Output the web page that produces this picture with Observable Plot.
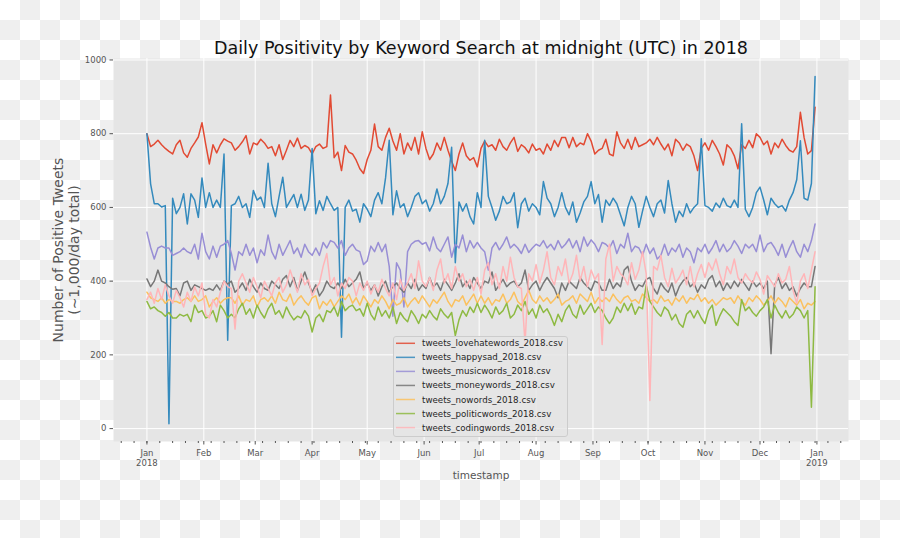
<!DOCTYPE html>
<html><head><meta charset="utf-8">
<script src="https://cdn.jsdelivr.net/npm/d3@7"></script>
<script src="https://cdn.jsdelivr.net/npm/@observablehq/plot@0.6"></script>
<style>
html,body{margin:0;padding:0;}
body{width:900px;height:538px;overflow:hidden;background:repeating-conic-gradient(#efefef 0 25%, #ffffff 0 50%) 0 0/40px 40px;font-family:"DejaVu Sans",sans-serif;}
#wrap{position:relative;width:900px;height:538px;}
#wrap > svg{position:absolute;left:0;top:0;}
#legend{position:absolute;left:393px;top:336px;width:175px;height:101px;}
#legend svg{display:block;}
</style></head>
<body><div id="wrap"><div id="legend"></div></div>
<script>
const titleText = "Daily Positivity by Keyword Search at midnight (UTC) in 2018";
const xLabel = "timestamp";
const yLabel = "Number of Positive Tweets\n(\u223C1,000/day total)";
const seriesNames = ["tweets_lovehatewords_2018.csv","tweets_happysad_2018.csv","tweets_musicwords_2018.csv","tweets_moneywords_2018.csv","tweets_nowords_2018.csv","tweets_politicwords_2018.csv","tweets_codingwords_2018.csv"];
const seriesColors = ["#E24A33","#348ABD","#988ED5","#777777","#FBC15E","#8EBA42","#FFB5B8"];
const startDate = "2018-01-01";
const stepDays = 2;
const yTicks = [0,200,400,600,800,1000];
const monthLabels = ["Jan\n2018","Feb","Mar","Apr","May","Jun","Jul","Aug","Sep","Oct","Nov","Dec","Jan\n2019"];

const lovehate = [800,765,772,782,770,760,752,745,770,782,748,736,760,775,791,830,772,718,770,748,770,786,780,
775,755,765,778,795,745,775,770,785,775,760,765,740,770,730,755,782,765,788,760,768,762,745,765,772,760,765,905,735,750,700,768,750,745,
728,705,692,730,755,826,765,755,790,815,780,755,800,745,775,755,790,745,805,760,730,745,775,755,790,755,725,700,745,775,740,728,735,710,
760,780,765,770,755,785,765,755,775,790,752,770,762,748,772,755,760,745,772,755,782,765,790,790,762,790,765,775,770,800,780,745,755,760,
785,745,740,805,775,760,785,758,790,765,770,775,785,770,790,772,756,772,740,785,775,755,772,765,740,700,760,775,755,782,765,745,715,770,
760,740,705,770,760,782,762,800,790,770,780,745,775,762,785,768,755,750,765,858,790,745,754,872];
const happysad = [800,664,610,610,601,605,13,625,583,600,637,555,637,620,573,680,600,640,600,620,600,745,240,
605,610,630,600,610,573,646,620,628,600,720,610,575,630,682,600,618,635,600,636,592,620,760,583,618,592,630,610,592,600,248,600,620,590,
595,560,610,595,575,620,640,610,680,782,580,645,600,610,575,600,630,640,610,620,590,610,650,610,630,665,763,450,615,590,610,575,555,640,
600,782,630,600,565,590,630,610,615,640,545,610,625,590,610,600,580,670,625,610,575,600,640,600,580,615,560,585,615,630,670,610,635,560,
620,605,625,610,580,550,600,630,610,546,590,630,600,575,610,620,585,673,610,560,590,575,610,585,600,610,786,605,600,590,612,600,625,605,
600,620,600,827,595,575,600,640,655,620,580,625,610,600,605,590,620,640,675,781,625,620,665,955];
const musicwords = [533,492,460,490,495,490,490,470,475,480,490,480,475,500,460,530,480,460,495,465,495,500,510,
475,430,480,470,500,470,490,450,485,470,525,480,460,500,470,490,510,475,490,465,500,480,470,490,470,505,490,510,505,490,510,470,490,500,
485,480,445,455,495,480,505,480,500,440,305,450,430,330,480,500,508,510,500,505,482,520,490,480,500,520,465,500,490,525,480,510,490,505,
490,480,430,490,505,485,500,520,490,500,490,475,500,478,490,500,495,510,490,500,485,510,490,500,515,490,510,480,520,495,512,500,480,505,
500,490,510,475,500,490,530,480,495,490,470,500,475,490,460,470,500,470,490,480,500,465,490,480,450,490,480,500,475,490,510,480,500,480,
490,510,495,475,500,490,500,480,525,480,500,505,490,470,500,465,490,510,480,465,500,480,510,555];
const moneywords = [406,385,400,430,400,395,385,378,380,360,395,400,375,390,385,380,375,380,375,390,375,400,392,
400,370,380,395,375,405,385,370,395,380,375,400,390,380,405,415,385,410,375,400,425,395,370,390,360,375,400,385,380,395,380,405,385,395,
405,425,380,395,375,390,360,385,400,370,385,395,380,370,395,380,405,375,390,380,410,385,395,375,405,390,375,395,420,385,400,380,410,395,
380,400,395,425,375,390,405,385,395,400,385,395,430,375,390,400,375,395,410,395,380,355,395,375,400,390,380,410,395,385,375,400,395,375,
375,405,380,395,385,430,440,400,375,390,385,405,410,380,365,395,380,370,395,360,385,400,410,385,395,370,390,380,405,415,385,400,375,395,
380,400,385,405,390,375,400,385,395,380,400,203,390,410,380,395,375,385,360,380,395,385,385,440];
const nowords = [370,355,350,345,355,340,350,345,345,340,350,355,345,360,345,350,360,330,345,355,340,350,355,
355,340,360,335,350,345,360,330,350,355,345,360,340,370,350,345,365,335,350,360,345,335,355,360,325,345,335,350,330,345,360,350,365,340,
355,335,360,345,330,350,340,360,345,325,350,335,340,355,330,345,355,340,360,345,330,350,340,355,370,345,330,350,345,360,335,350,365,340,
360,340,355,335,350,345,365,340,350,370,345,335,355,375,350,340,360,345,355,340,350,365,335,345,350,360,340,365,355,345,370,340,355,345,
355,345,365,350,340,355,360,345,350,340,365,355,345,350,340,360,345,350,335,355,345,360,340,355,350,365,345,355,340,350,335,345,355,350,
355,340,360,345,335,355,345,360,350,335,345,360,340,355,345,330,355,345,335,350,325,340,335,345];
const politicwords = [345,325,330,320,315,305,315,300,300,310,305,310,290,335,315,320,300,305,320,290,335,320,300,
310,300,325,340,310,325,300,335,315,300,325,340,310,320,300,330,310,295,305,300,320,305,262,300,310,290,320,315,330,305,345,320,330,335,
320,325,305,340,310,295,330,305,320,300,330,285,315,300,290,320,305,285,310,300,320,305,295,325,310,300,315,252,295,320,305,330,315,340,
315,335,320,300,330,310,320,340,300,310,335,320,345,310,325,300,335,315,325,305,280,310,290,320,335,310,300,335,310,325,340,315,330,320,
300,285,300,330,315,340,320,340,310,330,325,390,345,330,315,305,330,320,295,310,285,275,310,320,300,320,300,285,320,335,280,305,325,315,
305,290,280,350,320,330,315,305,320,330,350,300,335,315,300,320,300,310,330,320,300,320,58,385];
const codingwords = [350,370,340,380,350,390,360,340,375,355,330,370,345,385,360,395,310,300,350,330,370,400,385,
380,270,400,420,395,370,410,385,355,400,380,360,395,410,370,390,430,400,370,420,390,405,360,380,395,440,475,390,410,360,395,380,410,400,
360,395,375,400,365,390,370,405,380,360,395,350,405,375,395,420,380,455,400,385,410,375,430,460,395,420,380,440,400,420,385,405,375,410,
365,430,450,390,420,380,440,400,465,410,385,380,232,420,400,445,395,430,480,410,390,440,415,460,395,420,470,400,440,385,430,405,420,228,
460,500,400,440,420,410,390,450,405,430,480,420,76,440,430,470,410,385,435,395,410,430,390,440,385,420,445,410,450,430,460,420,390,440,
420,460,410,395,420,405,395,425,405,365,415,400,385,420,395,405,440,375,340,400,420,380,430,480];

const seriesValues = [lovehate, happysad, musicwords, moneywords, nowords, politicwords, codingwords];
const start = new Date(startDate + "T00:00:00Z");
const rows = seriesNames.flatMap((name, k) =>
  seriesValues[k].map((v, i) => ({name, date: d3.utcDay.offset(start, i * stepDays), value: v})));

const monthTicks = d3.utcMonth.range(new Date(Date.UTC(2018,0,1)), new Date(Date.UTC(2019,0,2)));
const labelMap = new Map(monthTicks.map((d, i) => [+d, monthLabels[i]]));
const weekTicks = d3.utcMonday.range(new Date(Date.UTC(2017,11,14)), new Date(Date.UTC(2019,0,18)));

const chart = Plot.plot({
  width: 900, height: 538,
  marginLeft: 113, marginRight: 52, marginTop: 58, marginBottom: 97,
  style: {fontFamily: "DejaVu Sans, sans-serif", background: "transparent"},
  x: {type: "utc", domain: [new Date(Date.UTC(2017,11,13,19)), new Date(Date.UTC(2019,0,18,5))]},
  y: {domain: [-35, 1004]},
  color: {domain: seriesNames, range: seriesColors},
  marks: [
    Plot.frame({fill: "#E5E5E5", stroke: null}),
    Plot.gridY(yTicks, {stroke: "white", strokeOpacity: 1, strokeWidth: 1}),
    Plot.gridX(monthTicks, {stroke: "white", strokeOpacity: 1, strokeWidth: 1}),
    Plot.axisY(yTicks, {tickSize: 3.5, tickPadding: 3.5, fontSize: 8.5, color: "#555555", label: null, tickFormat: d => String(d)}),
    Plot.axisX(weekTicks, {tickSize: 2, tickFormat: () => "", color: "#555555", label: null}),
    Plot.axisX(monthTicks, {tickSize: 3.5, tickPadding: 3, fontSize: 8.5, lineHeight: 1.25, color: "#555555", label: null, tickFormat: d => labelMap.get(+d)}),
    Plot.line(rows, {x: "date", y: "value", z: "name", stroke: "name", strokeWidth: 1.5}),
    Plot.text([titleText], {text: d => d, frameAnchor: "top", lineAnchor: "middle", dy: -10, fontSize: 17.5, fill: "#111"}),
    Plot.text([xLabel], {text: d => d, frameAnchor: "bottom", lineAnchor: "middle", dy: 34, fontSize: 10.5, fill: "#555555"}),
    Plot.text([yLabel], {text: d => d, frameAnchor: "left", textAnchor: "middle", lineAnchor: "middle", dx: -48, rotate: -90, fontSize: 14, lineHeight: 1.18, fill: "#555555"})
  ]
});
const wrap = document.getElementById("wrap");
wrap.insertBefore(chart, wrap.firstChild);

// legend (drawn as SVG overlay inside the axes, like the original)
const lw = 175, lh = 101;
const lsvg = d3.select("#legend").append("svg").attr("width", lw).attr("height", lh);
lsvg.append("rect").attr("x", 0.5).attr("y", 0.5).attr("width", lw - 1).attr("height", lh - 1)
  .attr("rx", 2.5).attr("fill", "rgba(229,229,229,0.8)").attr("stroke", "#cccccc").attr("stroke-width", 1);
const item = lsvg.selectAll("g.item").data(seriesNames).join("g")
  .attr("transform", (d, i) => `translate(0,${7.3 + i * 14.05})`);
item.append("line").attr("x1", 3).attr("x2", 22).attr("y1", 0).attr("y2", 0)
  .attr("stroke", (d, i) => seriesColors[i]).attr("stroke-width", 1.5).attr("stroke-opacity", 0.85);
item.append("text").attr("x", 29).attr("y", 0).attr("dy", "0.35em")
  .attr("font-family", "DejaVu Sans, sans-serif").attr("font-size", 8.7).attr("fill", "#262626")
  .text(d => d);
</script>
</body></html>
